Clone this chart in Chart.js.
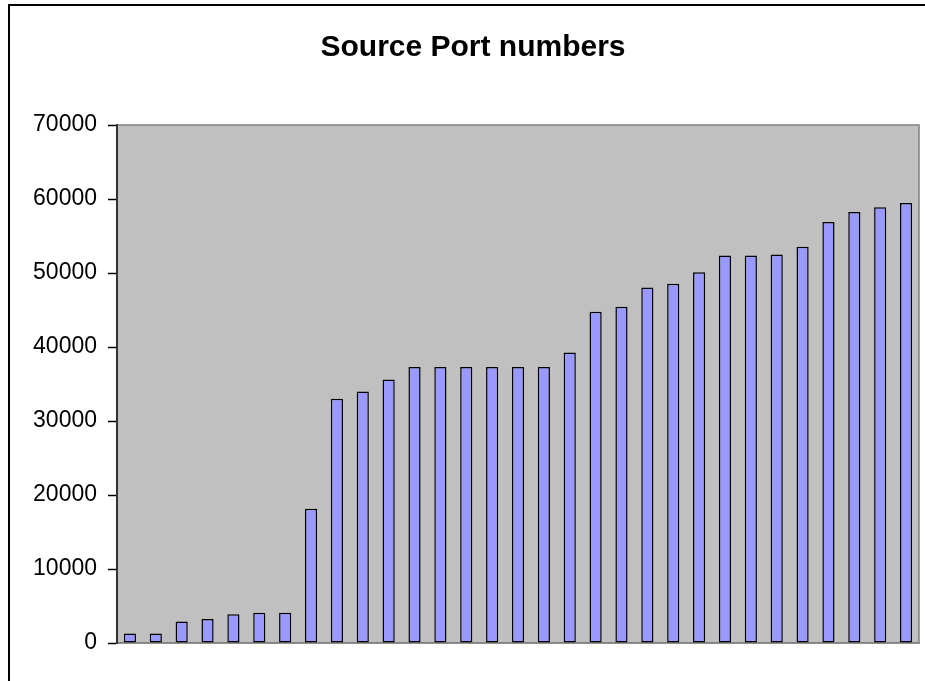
<!DOCTYPE html>
<html>
<head>
<meta charset="utf-8">
<script src="https://cdn.jsdelivr.net/npm/chart.js@4/dist/chart.umd.min.js"></script>
<style>
  html, body { margin: 0; padding: 0; background: #fff; overflow: hidden; }
  #frame { position: absolute; left: 8px; top: 4px; width: 1000px; height: 1000px;
           border-top: 2px solid #000; border-left: 2px solid #000; }
  #wrap { position: absolute; left: 0; top: 0; width: 925px; height: 681px; }
</style>
</head>
<body>
<div id="frame"></div>
<div id="wrap"><canvas id="portChart"></canvas></div>
<script>
// one bar per observed source port, sorted ascending
let categories = ['1', '2', '3', '4', '5', '6', '7', '8', '9', '10',
                  '11', '12', '13', '14', '15', '16', '17', '18', '19', '20',
                  '21', '22', '23', '24', '25', '26', '27', '28', '29', '30', '31'];
let portValues = [1300, 1300, 2900, 3250, 3900, 4100, 4100, 18150, 33000, 34000,
                  35600, 37300, 37300, 37300, 37300, 37300, 37300, 39250, 44750, 45450,
                  48050, 48550, 50100, 52350, 52350, 52500, 53550, 56900, 58250, 58900, 59450];
let yTicks = [0, 10000, 20000, 30000, 40000, 50000, 60000, 70000];

// grey plot area like the old spreadsheet charts
let plotArea = {
    id : 'plotArea',
    beforeDraw(chart) {
        let ctx = chart.ctx;
        let a = chart.chartArea;
        ctx.save();
        ctx.fillStyle = '#c0c0c0';
        ctx.fillRect(a.left, a.top, a.right - a.left, a.bottom - a.top);
        ctx.strokeStyle = '#808080';
        ctx.lineWidth = 1.5;
        ctx.strokeRect(a.left, a.top, a.right - a.left, a.bottom - a.top);
        ctx.restore();
    }
};

let chartContainer = document.getElementById('portChart').getContext('2d');

let config = {
    type : 'bar',
    data : {
        labels : categories,
        datasets : [{
            data : portValues,
            backgroundColor : '#9999ff',
            borderColor : '#000000',
            borderWidth : 1.5,
            borderSkipped : false,
            categoryPercentage : 1,
            barPercentage : 0.47
        }]
    },
    options : {
        responsive : true,
        maintainAspectRatio : false,
        animation : false,
        layout : {
            padding : {left : 27, right : 6, top : 0, bottom : 38}
        },
        plugins : {
            legend : {display : false},
            tooltip : {enabled : false},
            title : {
                display : true,
                text : 'Source Port numbers',
                color : '#000',
                font : {family : '"Liberation Sans", Arial, sans-serif', size : 30, weight : 'bold', lineHeight : 1.2},
                padding : {top : 30, bottom : 59}
            }
        },
        scales : {
            x : {
                ticks : {display : false},
                grid : {display : false, drawTicks : false},
                border : {display : true, color : '#808080', width : 1.5},
                afterFit(scale) { scale.height = 0; }
            },
            y : {
                min : 0,
                max : 70000,
                afterBuildTicks(scale) { scale.ticks = yTicks.map(v => ({value : v})); },
                afterFit(scale) { scale.width = 90; },
                ticks : {
                    color : '#000',
                    padding : 11,
                    font : {family : '"Liberation Sans", Arial, sans-serif', size : 23},
                    callback : v => String(v)
                },
                grid : {
                    drawOnChartArea : false,
                    drawTicks : true,
                    tickLength : 9,
                    tickWidth : 1.5,
                    tickColor : '#000'
                },
                border : {display : true, color : '#333', width : 2}
            }
        }
    },
    plugins : [plotArea]
};

let chart = new Chart(chartContainer, config);
</script>
</body>
</html>
